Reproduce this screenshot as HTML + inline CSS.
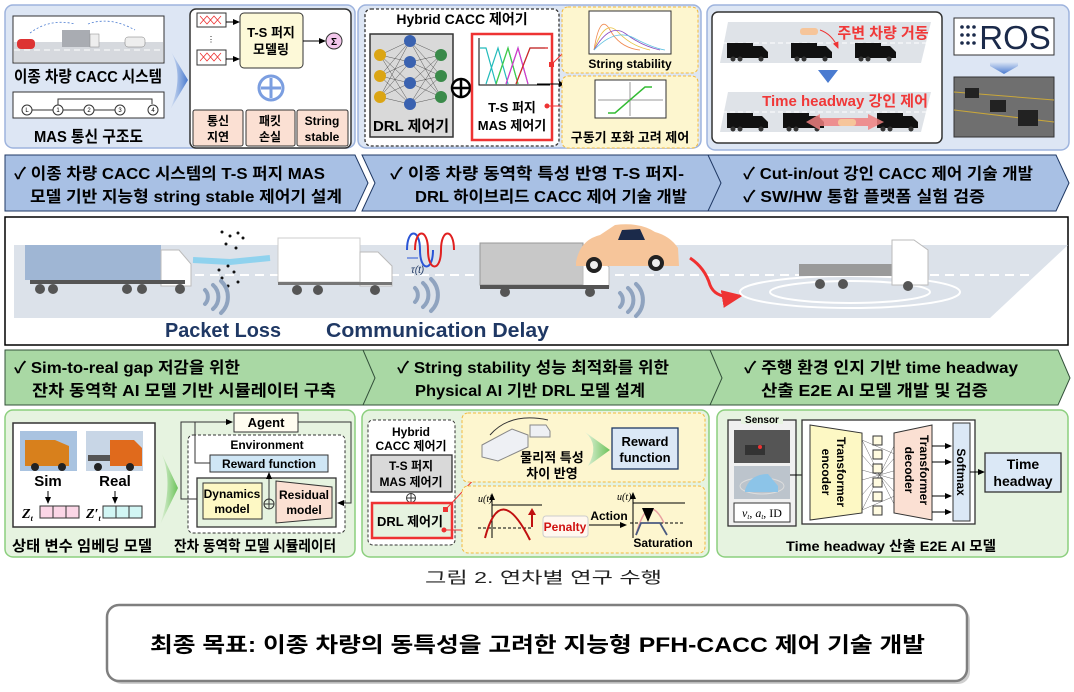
<!DOCTYPE html>
<html><head><meta charset="utf-8"><style>
html,body{margin:0;padding:0;background:#fff;}
svg{display:block;font-family:"Liberation Sans","Noto Sans CJK KR",sans-serif;}
.b{font-weight:bold;}
</style></head><body>
<svg width="1074" height="692" viewBox="0 0 1074 692" xmlns="http://www.w3.org/2000/svg">
<defs>
<marker id="ar" markerWidth="8" markerHeight="8" refX="6" refY="4" orient="auto"><path d="M0,1 L7,4 L0,7z" fill="#000"/></marker>
<marker id="arr" markerWidth="8" markerHeight="8" refX="6" refY="4" orient="auto"><path d="M0,1 L7,4 L0,7z" fill="#e33"/></marker>
<linearGradient id="bluear" x1="0" x2="1"><stop offset="0" stop-color="#dde6f4"/><stop offset="1" stop-color="#4a7bd0"/></linearGradient>
<linearGradient id="greenar" x1="0" x2="1"><stop offset="0" stop-color="#e6f3e0"/><stop offset="1" stop-color="#6cc35a"/></linearGradient>
<linearGradient id="bluedn" x1="0" y1="0" x2="0" y2="1"><stop offset="0" stop-color="#dde6f4"/><stop offset="1" stop-color="#4a7bd0"/></linearGradient>
<g id="btruck"><rect x="0" y="0" width="26" height="15" fill="#111"/><path d="M26,3 h9 l6,6 v6 h-15z" fill="#111"/><circle cx="6" cy="16" r="2.5" fill="#333"/><circle cx="13" cy="16" r="2.5" fill="#333"/><circle cx="34" cy="16" r="2.5" fill="#333"/></g>
</defs>

<!-- ===== TOP PANELS ===== -->
<rect x="5" y="5" width="350" height="143" rx="8" fill="#dde6f4" stroke="#9db3dd" stroke-width="1.5"/>
<rect x="13" y="16" width="151" height="47" fill="#fff" stroke="#333"/>
<rect x="14" y="42" width="149" height="20" fill="#d6d9de"/>
<line x1="14" y1="50" x2="163" y2="50" stroke="#fff" stroke-dasharray="6 4"/>
<rect x="17" y="39" width="18" height="10" rx="4" fill="#d33"/>
<rect x="62" y="30" width="28" height="17" fill="#a9acb2"/><rect x="90" y="34" width="9" height="13" fill="#eee" stroke="#888" stroke-width=".5"/>
<rect x="125" y="37" width="20" height="10" rx="3" fill="#eee" stroke="#777" stroke-width=".5"/>
<path d="M30,33 Q50,18 75,24 M88,24 Q110,16 135,30" stroke="#4a7bd0" stroke-width=".8" fill="none" stroke-dasharray="2 2"/>
<text x="14" y="82" font-size="16" class="b" textLength="148" lengthAdjust="spacingAndGlyphs">이종 차량 CACC 시스템</text>
<rect x="13" y="92" width="151" height="26" fill="#fff" stroke="#333"/>
<g font-size="6" text-anchor="middle" fill="none" stroke="#333">
<circle cx="27" cy="110" r="5" fill="#fff"/><circle cx="58" cy="110" r="5" fill="#fff"/><circle cx="89" cy="110" r="5" fill="#fff"/><circle cx="120" cy="110" r="5" fill="#fff"/><circle cx="153" cy="110" r="5" fill="#fff"/>
<path d="M32,110 H53 M63,110 H84 M94,110 H115 M58,105 V99 H152 V104"/>
</g>
<g font-size="6" text-anchor="middle"><text x="27" y="112">L</text><text x="58" y="112">1</text><text x="89" y="112">2</text><text x="120" y="112">3</text><text x="153" y="112">4</text></g>
<text x="34" y="142" font-size="16" class="b" textLength="109" lengthAdjust="spacingAndGlyphs">MAS 통신 구조도</text>
<path d="M170,50 Q185,75 170,110 L188,80z" fill="url(#bluear)"/>
<rect x="190" y="9" width="161" height="139" rx="6" fill="#fff" stroke="#333" stroke-width="1.5"/>
<rect x="197" y="13" width="29" height="14" fill="#fff" stroke="#333"/><path d="M200,16 l7,8 l7,-8 l7,8 M200,24 l7,-8 l7,8 l7,-8" stroke="#e33" stroke-width=".8" fill="none"/>
<rect x="197" y="50" width="29" height="15" fill="#fff" stroke="#333"/><path d="M200,53 l7,8 l7,-8 l7,8 M200,61 l7,-8 l7,8 l7,-8" stroke="#e33" stroke-width=".8" fill="none"/>
<text x="211" y="42" font-size="8" text-anchor="middle">⋮</text>
<line x1="226" y1="22" x2="239" y2="22" stroke="#000" marker-end="url(#ar)"/>
<line x1="226" y1="59" x2="239" y2="59" stroke="#000" marker-end="url(#ar)"/>
<rect x="240" y="13" width="63" height="55" rx="4" fill="#fdf9d8" stroke="#333"/>
<text x="271" y="37" font-size="13" class="b" text-anchor="middle">T-S 퍼지</text>
<text x="271" y="54" font-size="13" class="b" text-anchor="middle">모델링</text>
<line x1="303" y1="41" x2="325" y2="41" stroke="#000" marker-end="url(#ar)"/>
<circle cx="334" cy="41" r="8" fill="#f3c7ec" stroke="#333"/><text x="334" y="45" font-size="10" class="b" text-anchor="middle">Σ</text>
<circle cx="271" cy="88" r="12" fill="#fff" stroke="#7b9ee0" stroke-width="3"/><path d="M261,88 H281 M271,78 V98" stroke="#7b9ee0" stroke-width="3"/>
<g fill="#fbe0d3" stroke="#333"><rect x="193" y="110" width="50" height="36" rx="2"/><rect x="246" y="110" width="49" height="36" rx="2"/><rect x="297" y="110" width="51" height="36" rx="2"/></g>
<g font-size="12" class="b" text-anchor="middle"><text x="218" y="125">통신</text><text x="218" y="141">지연</text><text x="270" y="125">패킷</text><text x="270" y="141">손실</text><text x="322" y="125">String</text><text x="322" y="141">stable</text></g>

<rect x="358" y="5" width="343" height="143" rx="8" fill="#dde6f4" stroke="#9db3dd" stroke-width="1.5"/>
<rect x="365" y="9" width="194" height="137" rx="6" fill="#fff" stroke="#333" stroke-dasharray="3 2" stroke-width="1.3"/>
<text x="462" y="24" font-size="14" class="b" text-anchor="middle">Hybrid CACC 제어기</text>
<rect x="370" y="34" width="83" height="103" fill="#d9d9d9" stroke="#333" stroke-width="1.5"/>
<g stroke="#333" stroke-width=".4">
<path d="M380,55 L410,41 M380,55 L410,62 M380,55 L410,83 M380,55 L410,104 M380,76 L410,41 M380,76 L410,62 M380,76 L410,83 M380,76 L410,104 M380,97 L410,41 M380,97 L410,62 M380,97 L410,83 M380,97 L410,104 M410,41 L441,55 M410,62 L441,55 M410,83 L441,55 M410,104 L441,55 M410,41 L441,76 M410,62 L441,76 M410,83 L441,76 M410,104 L441,76 M410,41 L441,97 M410,62 L441,97 M410,83 L441,97 M410,104 L441,97"/></g>
<g fill="#dba514"><circle cx="380" cy="55" r="6"/><circle cx="380" cy="76" r="6"/><circle cx="380" cy="97" r="6"/></g>
<g fill="#3a62b0"><circle cx="410" cy="41" r="6"/><circle cx="410" cy="62" r="6"/><circle cx="410" cy="83" r="6"/><circle cx="410" cy="104" r="6"/></g>
<g fill="#3a8a4a"><circle cx="441" cy="55" r="6"/><circle cx="441" cy="76" r="6"/><circle cx="441" cy="97" r="6"/></g>
<text x="411" y="131" font-size="15" class="b" text-anchor="middle">DRL 제어기</text>
<circle cx="461" cy="88" r="9" fill="#fff" stroke="#000" stroke-width="2.5"/><path d="M452,88 H470 M461,79 V97" stroke="#000" stroke-width="2.5"/>
<rect x="472" y="34" width="80" height="106" fill="#fff" stroke="#e33" stroke-width="2.5"/>
<path d="M479,38 V85 H550" stroke="#000" fill="none"/>
<path d="M480,48 H486 L496,84 M486,84 L498,48 L508,84 M496,84 L508,48 L518,84 M506,84 L518,48 L528,84 M516,84 L530,48 L540,48 L545,48" fill="none" stroke-width="1.2" stroke="#2bb"/>
<path d="M496,84 L508,48 L518,84" fill="none" stroke="#4c4" stroke-width="1.2"/><path d="M506,84 L518,48 L528,84" fill="none" stroke="#d3c" stroke-width="1.2"/><path d="M516,84 L530,48 H548" fill="none" stroke="#d22" stroke-width="1.2"/>
<text x="512" y="112" font-size="13" class="b" text-anchor="middle">T-S 퍼지</text>
<text x="512" y="130" font-size="13" class="b" text-anchor="middle">MAS 제어기</text>
<rect x="549" y="62" width="5" height="5" fill="#e33"/><line x1="552" y1="64" x2="570" y2="46" stroke="#e33" marker-end="url(#arr)"/>
<line x1="537" y1="84" x2="565" y2="84" stroke="#000" marker-end="url(#ar)"/>
<circle cx="547" cy="106" r="2.5" fill="#e33"/><line x1="547" y1="106" x2="572" y2="106" stroke="#e33" marker-end="url(#arr)"/>
<rect x="562" y="7" width="136" height="66" rx="6" fill="#fdf6cf" stroke="#f2b93c" stroke-dasharray="3 2"/>
<rect x="589" y="11" width="82" height="43" fill="#fff" stroke="#333"/>
<g fill="none" stroke-width=".8"><path d="M594,50 Q600,12 610,30 T640,50" stroke="#f08a50"/><path d="M594,50 Q605,18 618,32 T650,50" stroke="#e8c040"/><path d="M594,50 Q610,22 626,34 T660,50" stroke="#8a4bc0"/><path d="M594,50 Q615,28 634,38 T665,50" stroke="#5cc0e0"/></g>
<text x="630" y="68" font-size="12" class="b" text-anchor="middle">String stability</text>
<rect x="562" y="76" width="136" height="72" rx="6" fill="#fdf6cf" stroke="#f2b93c" stroke-dasharray="3 2"/>
<rect x="595" y="80" width="71" height="38" fill="#fff" stroke="#333"/>
<path d="M598,100 H663 M630,82 V116" stroke="#333" stroke-width=".5"/>
<path d="M608,113 H615 L645,87 H652" stroke="#3b3" stroke-width="1.5" fill="none"/>
<text x="630" y="142" font-size="13" class="b" text-anchor="middle">구동기 포화 고려 제어</text>

<rect x="707" y="5" width="362" height="145" rx="8" fill="#dde6f4" stroke="#9db3dd" stroke-width="1.5"/>
<rect x="712" y="12" width="230" height="131" rx="6" fill="#fff" stroke="#333" stroke-width="1.5"/>
<path d="M728,22 H931 L921,63 H720z" fill="#dfe3e8"/>
<line x1="722" y1="43" x2="928" y2="43" stroke="#fff" stroke-dasharray="5 3"/>
<use href="#btruck" x="727" y="43"/><use href="#btruck" x="791" y="43"/><use href="#btruck" x="855" y="43"/>
<rect x="800" y="28" width="18" height="7" rx="3" fill="#f6c59a"/>
<path d="M820,30 Q832,34 838,48" stroke="#e33" fill="none" marker-end="url(#arr)"/>
<text x="883" y="38" font-size="15" class="b" fill="#f03838" text-anchor="middle">주변 차량 거동</text>
<path d="M818,70 H838 L828,83z" fill="#4a7bd0"/>
<path d="M728,92 H931 L921,132 H720z" fill="#dfe3e8"/>
<line x1="722" y1="112" x2="928" y2="112" stroke="#fff" stroke-dasharray="5 3"/>
<use href="#btruck" x="727" y="113"/><use href="#btruck" x="783" y="113"/><use href="#btruck" x="877" y="113"/>
<path d="M806,122 L820,114 V118 H868 V114 L884,122 L868,130 V126 H820 V130z" fill="#f08080" opacity=".85"/>
<rect x="838" y="119" width="18" height="7" rx="3" fill="#f6c59a"/>
<text x="845" y="106" font-size="15" class="b" fill="#f03838" text-anchor="middle">Time headway 강인 제어</text>
<rect x="954" y="18" width="100" height="37" fill="#fff" stroke="#333"/>
<g fill="#1b2a4a"><circle cx="962" cy="27" r="1.8"/><circle cx="968" cy="27" r="1.8"/><circle cx="974" cy="27" r="1.8"/><circle cx="962" cy="35" r="1.8"/><circle cx="968" cy="35" r="1.8"/><circle cx="974" cy="35" r="1.8"/><circle cx="962" cy="43" r="1.8"/><circle cx="968" cy="43" r="1.8"/><circle cx="974" cy="43" r="1.8"/></g>
<text x="1015" y="49" font-size="33" fill="#1b2a4a" text-anchor="middle">ROS</text>
<path d="M990,62 H1018 V66 L1004,74 L990,66z" fill="url(#bluedn)"/>
<rect x="954" y="77" width="100" height="60" fill="#6f6f6f" stroke="#333"/>
<path d="M954,92 L1054,100 M954,110 L1054,122" stroke="#c9a73a" stroke-width="1"/>
<g fill="#222"><rect x="965" y="88" width="14" height="10"/><rect x="990" y="100" width="16" height="12"/><rect x="1018" y="110" width="20" height="16"/></g>

<!-- banners row 1 -->
<path d="M5,155 H355 L368,183 L355,211 H5z" fill="#a8c0e4" stroke="#1f3864" stroke-width="1"/>
<path d="M362,155 H712 L725,183 L712,211 H362 L375,183z" fill="#a8c0e4" stroke="#1f3864" stroke-width="1"/>
<path d="M708,155 H1056 L1069,183 L1056,211 H708 L721,183z" fill="#a8c0e4" stroke="#1f3864" stroke-width="1"/>
<g font-size="16" class="b" lengthAdjust="spacingAndGlyphs">
<text x="14" y="179" textLength="311" lengthAdjust="spacingAndGlyphs">✓ 이종 차량 CACC 시스템의 T-S 퍼지 MAS</text>
<text x="30" y="202" textLength="312" lengthAdjust="spacingAndGlyphs">모델 기반 지능형 string stable 제어기 설계</text>
<text x="390" y="179" textLength="294" lengthAdjust="spacingAndGlyphs">✓ 이종 차량 동역학 특성 반영 T-S 퍼지-</text>
<text x="415" y="202" textLength="272" lengthAdjust="spacingAndGlyphs">DRL 하이브리드 CACC 제어 기술 개발</text>
<text x="743" y="179" textLength="290" lengthAdjust="spacingAndGlyphs">✓ Cut-in/out 강인 CACC 제어 기술 개발</text>
<text x="743" y="202" textLength="242" lengthAdjust="spacingAndGlyphs">✓ SW/HW 통합 플랫폼 실험 검증</text>
</g>

<!-- ===== MIDDLE ===== -->
<rect x="5" y="217" width="1063" height="128" fill="#fff" stroke="#000" stroke-width="1.5"/>
<path d="M14,245 H1068 L990,318 H14z" fill="#dce2ea"/>
<line x1="180" y1="275" x2="1030" y2="275" stroke="#fff" stroke-width="2" stroke-dasharray="9 6"/>
<rect x="25" y="245" width="136" height="35" fill="#9fb6d4"/>
<path d="M161,250 h18 l12,14 v22 h-30z" fill="#fff" stroke="#bbb"/>
<rect x="30" y="280" width="155" height="4" fill="#555"/>
<g fill="#555"><circle cx="40" cy="289" r="5"/><circle cx="53" cy="289" r="5"/><circle cx="127" cy="289" r="5"/><circle cx="142" cy="289" r="5"/><circle cx="180" cy="289" r="5"/></g>
<path d="M193,260 L230,262 L270,258" stroke="#5cc8f0" stroke-width="6" opacity=".6" fill="none"/>
<g fill="#111"><circle cx="222" cy="232" r="1.5"/><circle cx="230" cy="236" r="1.5"/><circle cx="238" cy="233" r="1.5"/><circle cx="226" cy="244" r="1.5"/><circle cx="236" cy="248" r="1.5"/><circle cx="228" cy="266" r="1.5"/><circle cx="234" cy="272" r="1.5"/><circle cx="222" cy="278" r="1.5"/><circle cx="238" cy="282" r="1.5"/><circle cx="228" cy="286" r="1.5"/><circle cx="243" cy="238" r="1.5"/><circle cx="219" cy="270" r="1.5"/></g>
<rect x="278" y="238" width="82" height="44" fill="#fff" stroke="#ccc"/>
<path d="M360,252 h18 l14,14 v20 h-32z" fill="#fff" stroke="#bbb"/>
<rect x="278" y="282" width="114" height="3" fill="#777"/>
<g fill="#555"><circle cx="297" cy="290" r="5"/><circle cx="318" cy="290" r="5"/><circle cx="375" cy="290" r="5"/></g>
<path d="M407,250 C407,228 420,228 420,250 S433,272 433,250" stroke="#2a55d6" stroke-width="2" fill="none"/>
<path d="M415,250 C415,228 428,228 428,250 S441,272 441,250 S454,228 454,250" stroke="#e02020" stroke-width="2" fill="none"/>
<line x1="407" y1="258" x2="418" y2="258" stroke="#2a55d6"/>
<text x="411" y="273" font-size="10" font-style="italic" fill="#1f3864">τ(t)</text>
<rect x="480" y="243" width="103" height="42" fill="#c8c8c8" stroke="#999"/>
<path d="M583,255 h14 l12,12 v20 h-26z" fill="#fff" stroke="#bbb"/>
<rect x="480" y="285" width="129" height="4" fill="#555"/>
<g fill="#555"><circle cx="505" cy="292" r="5"/><circle cx="590" cy="292" r="5"/></g>
<path d="M576,262 Q580,240 600,235 L615,225 Q640,222 655,232 Q670,236 678,248 L679,266 H576z" fill="#f6c59a"/>
<path d="M622,230 L640,229 L645,240 L618,240z" fill="#1b2a4a"/>
<circle cx="594" cy="265" r="8" fill="#222"/><circle cx="594" cy="265" r="4" fill="#eee"/><circle cx="656" cy="263" r="8" fill="#222"/><circle cx="656" cy="263" r="4" fill="#eee"/>
<path d="M690,258 Q705,268 710,285 Q716,300 740,296" stroke="#f03030" stroke-width="3" fill="none" marker-end="url(#arr)"/>
<ellipse cx="850" cy="292" rx="110" ry="16" fill="none" stroke="#fff" stroke-width="2"/>
<ellipse cx="850" cy="292" rx="80" ry="11" fill="none" stroke="#fff" stroke-width="2"/>
<rect x="799" y="264" width="93" height="12" fill="#9a9a9a"/>
<path d="M892,240 h22 l14,10 v35 h-36z" fill="#fff" stroke="#bbb"/>
<g fill="#555"><circle cx="820" cy="284" r="5"/><circle cx="843" cy="284" r="5"/><circle cx="908" cy="286" r="5"/></g>
<g fill="none" stroke="#8fa3bf" stroke-width="4" stroke-linecap="round">
<path d="M205,290 a10,10 0 0 1 0,14 M213,285 a16,16 0 0 1 0,24 M221,281 a22,22 0 0 1 0,32"/>
<path d="M415,288 a10,10 0 0 1 0,14 M423,283 a16,16 0 0 1 0,24 M431,279 a22,22 0 0 1 0,32"/>
<path d="M620,293 a10,10 0 0 1 0,14 M628,288 a16,16 0 0 1 0,24 M636,284 a22,22 0 0 1 0,32"/>
</g>
<text x="165" y="337" font-size="20" class="b" fill="#1f3864" textLength="116" lengthAdjust="spacingAndGlyphs">Packet Loss</text>
<text x="326" y="337" font-size="20" class="b" fill="#1f3864" textLength="223" lengthAdjust="spacingAndGlyphs">Communication Delay</text>

<!-- banners row 2 -->
<path d="M5,350 H368 L380,378 L368,405 H5z" fill="#a9d8a4" stroke="#33503a" stroke-width="1"/>
<path d="M363,350 H715 L727,378 L715,405 H363 L375,378z" fill="#a9d8a4" stroke="#33503a" stroke-width="1"/>
<path d="M710,350 H1058 L1070,378 L1058,405 H710 L722,378z" fill="#a9d8a4" stroke="#33503a" stroke-width="1"/>
<g font-size="16" class="b">
<text x="14" y="373" textLength="226" lengthAdjust="spacingAndGlyphs">✓ Sim-to-real gap 저감을 위한</text>
<text x="32" y="396" textLength="304" lengthAdjust="spacingAndGlyphs">잔차 동역학 AI 모델 기반 시뮬레이터 구축</text>
<text x="397" y="373" textLength="272" lengthAdjust="spacingAndGlyphs">✓ String stability 성능 최적화를 위한</text>
<text x="415" y="396" textLength="230" lengthAdjust="spacingAndGlyphs">Physical AI 기반 DRL 모델 설계</text>
<text x="744" y="373" textLength="274" lengthAdjust="spacingAndGlyphs">✓ 주행 환경 인지 기반 time headway</text>
<text x="761" y="396" textLength="227" lengthAdjust="spacingAndGlyphs">산출 E2E AI 모델 개발 및 검증</text>
</g>

<!-- ===== BOTTOM PANELS ===== -->
<rect x="5" y="410" width="350" height="147" rx="8" fill="#e6f3e0" stroke="#8ccf7e" stroke-width="1.5"/>
<rect x="13" y="423" width="142" height="104" fill="#fff" stroke="#333" stroke-width="1.5"/>
<rect x="20" y="431" width="57" height="40" fill="#a9c3e0"/><path d="M25,440 h30 l14,6 v20 h-44z" fill="#d8801c"/><circle cx="35" cy="467" r="4" fill="#222"/><circle cx="62" cy="467" r="4" fill="#222"/>
<rect x="86" y="431" width="57" height="40" fill="#c8d6e6"/><path d="M110,440 h24 l8,8 v18 h-32z" fill="#e06a1c"/><rect x="88" y="455" width="22" height="6" fill="#555"/><circle cx="98" cy="467" r="4" fill="#222"/><circle cx="130" cy="467" r="4" fill="#222"/>
<text x="48" y="486" font-size="15" class="b" text-anchor="middle">Sim</text>
<text x="115" y="486" font-size="15" class="b" text-anchor="middle">Real</text>
<line x1="48" y1="491" x2="48" y2="503" stroke="#000" marker-end="url(#ar)"/><line x1="115" y1="491" x2="115" y2="503" stroke="#000" marker-end="url(#ar)"/>
<text x="22" y="518" font-size="14" font-family="Liberation Serif" font-style="italic" class="b">Z<tspan font-size="8" dy="3">t</tspan></text>
<g stroke="#333" fill="#fbd6e6"><rect x="40" y="506" width="13" height="12"/><rect x="53" y="506" width="13" height="12"/><rect x="66" y="506" width="13" height="12"/></g>
<text x="86" y="518" font-size="14" font-family="Liberation Serif" font-style="italic" class="b">Z′<tspan font-size="8" dy="3">t</tspan></text>
<g stroke="#333" fill="#d2f6f4"><rect x="103" y="506" width="13" height="12"/><rect x="116" y="506" width="13" height="12"/><rect x="129" y="506" width="13" height="12"/></g>
<text x="12" y="551" font-size="15" class="b" textLength="140" lengthAdjust="spacingAndGlyphs">상태 변수 임베딩 모델</text>
<path d="M160,450 Q175,480 160,525 L178,488z" fill="url(#greenar)"/>
<rect x="234" y="413" width="64" height="19" fill="#fffdf0" stroke="#333"/>
<text x="266" y="427" font-size="13" class="b" text-anchor="middle">Agent</text>
<rect x="188" y="435" width="157" height="98" rx="5" fill="#fff" stroke="#333" stroke-dasharray="3 2"/>
<text x="267" y="449" font-size="12" class="b" text-anchor="middle">Environment</text>
<rect x="210" y="455" width="118" height="17" fill="#cfe6f5" stroke="#333"/>
<text x="269" y="468" font-size="12" class="b" text-anchor="middle">Reward function</text>
<rect x="197" y="478" width="139" height="49" fill="#e6f3e0" stroke="#333" stroke-width="1.3"/>
<rect x="203" y="483" width="59" height="36" fill="#fdf8c4" stroke="#333"/>
<text x="232" y="498" font-size="12" class="b" text-anchor="middle">Dynamics</text><text x="232" y="513" font-size="12" class="b" text-anchor="middle">model</text>
<path d="M276,481 L332,487 V518 L276,523z" fill="#fbe0d3" stroke="#333"/>
<text x="304" y="499" font-size="12" class="b" text-anchor="middle">Residual</text><text x="304" y="514" font-size="12" class="b" text-anchor="middle">model</text>
<circle cx="269" cy="504" r="5" fill="none" stroke="#333"/><path d="M264,504 H274 M269,499 V509" stroke="#333"/>
<line x1="269" y1="499" x2="269" y2="473" stroke="#333" marker-end="url(#ar)"/>
<path d="M197,499 H181 V422 H232" stroke="#333" fill="none" marker-end="url(#ar)"/>
<path d="M210,463 H195 V422" stroke="#333" fill="none"/>
<path d="M298,422 H351 V503 H338" stroke="#333" fill="none" marker-end="url(#ar)"/>
<text x="174" y="551" font-size="15" class="b" textLength="162" lengthAdjust="spacingAndGlyphs">잔차 동역학 모델 시뮬레이터</text>

<rect x="362" y="410" width="347" height="147" rx="8" fill="#e6f3e0" stroke="#8ccf7e" stroke-width="1.5"/>
<rect x="368" y="420" width="87" height="125" rx="5" fill="#fff" stroke="#333" stroke-dasharray="3 2"/>
<text x="411" y="436" font-size="12" class="b" text-anchor="middle">Hybrid</text>
<text x="411" y="450" font-size="12" class="b" text-anchor="middle">CACC 제어기</text>
<rect x="371" y="455" width="81" height="37" fill="#d9d9d9" stroke="#333" stroke-width="1.3"/>
<text x="411" y="470" font-size="12" class="b" text-anchor="middle">T-S 퍼지</text>
<text x="411" y="486" font-size="12" class="b" text-anchor="middle">MAS 제어기</text>
<circle cx="411" cy="498" r="4.5" fill="none" stroke="#333"/><path d="M406.5,498 H415.5 M411,493.5 V502.5" stroke="#333"/>
<rect x="372" y="503" width="80" height="35" fill="#e6f3e0" stroke="#e33" stroke-width="2.5"/>
<text x="410" y="526" font-size="13" class="b" text-anchor="middle">DRL 제어기</text>
<rect x="443" y="507" width="5" height="5" fill="#e33"/><line x1="446" y1="509" x2="480" y2="473" stroke="#e33" marker-end="url(#arr)"/>
<circle cx="444" cy="530" r="2.5" fill="#e33"/><line x1="444" y1="530" x2="472" y2="530" stroke="#e33" marker-end="url(#arr)"/>
<rect x="462" y="413" width="243" height="69" rx="6" fill="#fdf6cf" stroke="#f2b93c" stroke-dasharray="3 2"/>
<path d="M482,445 l30,-16 l16,6 v12 l-30,14 l-16,-4z" fill="#eef0f4" stroke="#888"/>
<path d="M530,425 h16 l4,6 v6 h-20z" fill="#eef0f4" stroke="#888"/>
<path d="M490,435 Q510,412 548,420" stroke="#333" fill="none"/>
<text x="552" y="462" font-size="13" class="b" text-anchor="middle">물리적 특성</text>
<text x="552" y="478" font-size="13" class="b" text-anchor="middle">차이 반영</text>
<path d="M585,432 Q600,445 588,466 L610,450z" fill="url(#greenar)"/>
<rect x="612" y="428" width="66" height="41" fill="#dbe8f6" stroke="#1f3864" stroke-width="1.3"/>
<text x="645" y="446" font-size="13" class="b" text-anchor="middle">Reward</text>
<text x="645" y="462" font-size="13" class="b" text-anchor="middle">function</text>
<rect x="462" y="486" width="243" height="67" rx="6" fill="#fdf6cf" stroke="#f2b93c" stroke-dasharray="3 2"/>
<text x="478" y="502" font-size="10" font-family="Liberation Serif" font-style="italic">u(t)</text>
<line x1="492" y1="538" x2="492" y2="494" stroke="#000" marker-end="url(#ar)"/>
<line x1="492" y1="505" x2="542" y2="505" stroke="#000"/>
<line x1="478" y1="528" x2="532" y2="528" stroke="#000" stroke-dasharray="3 2"/>
<path d="M485,538 Q500,480 530,540" stroke="#c01010" stroke-width="2" fill="none"/>
<path d="M532,527 V514" stroke="#c01010" stroke-width="2"/><path d="M528,515 L532,508 L536,515z" fill="#c01010"/>
<rect x="543" y="516" width="45" height="21" rx="3" fill="#fff8ef" stroke="#ccc"/>
<text x="565" y="531" font-size="12" class="b" fill="#d01010" text-anchor="middle">Penalty</text>
<text x="609" y="520" font-size="12" class="b" text-anchor="middle">Action</text>
<line x1="589" y1="525" x2="626" y2="525" stroke="#000" marker-end="url(#ar)"/>
<text x="617" y="500" font-size="10" font-family="Liberation Serif" font-style="italic">u(t)</text>
<line x1="633" y1="538" x2="633" y2="493" stroke="#000" marker-end="url(#ar)"/>
<line x1="633" y1="503" x2="685" y2="503" stroke="#000"/>
<line x1="630" y1="523" x2="685" y2="523" stroke="#000" stroke-dasharray="3 2"/>
<path d="M636,535 Q648,490 664,523" stroke="#e9a0a0" stroke-width="1.5" fill="none"/>
<path d="M636,535 L641,523 H660 L667,535" stroke="#4a5a80" stroke-width="1.8" fill="none"/>
<line x1="648" y1="510" x2="648" y2="520" stroke="#1f3864" stroke-width="2" marker-end="url(#ar)"/>
<text x="663" y="547" font-size="12" class="b" text-anchor="middle">Saturation</text>

<rect x="717" y="410" width="351" height="147" rx="8" fill="#e6f3e0" stroke="#8ccf7e" stroke-width="1.5"/>
<rect x="728" y="420" width="68" height="106" fill="#f0f0f0" stroke="#333" stroke-width="1.3"/>
<rect x="741" y="414" width="42" height="10" fill="#e6f3e0"/>
<text x="762" y="423" font-size="10" class="b" text-anchor="middle">Sensor</text>
<rect x="734" y="430" width="56" height="33" fill="#555"/><rect x="745" y="445" width="20" height="10" fill="#333"/><circle cx="760" cy="447" r="2" fill="#e33"/>
<rect x="734" y="466" width="56" height="33" fill="#bcc4cc"/><ellipse cx="762" cy="486" rx="22" ry="8" fill="none" stroke="#ddd"/><path d="M745,490 Q750,474 768,474 L778,486 V492 H745z" fill="#8cc4e8"/>
<rect x="734" y="503" width="56" height="19" fill="#fff" stroke="#333"/>
<text x="762" y="517" font-size="12" font-family="Liberation Serif" text-anchor="middle"><tspan font-style="italic">v</tspan><tspan font-size="7" font-style="italic" dy="2">t</tspan><tspan dy="-2">, </tspan><tspan font-style="italic">a</tspan><tspan font-size="7" font-style="italic" dy="2">t</tspan><tspan dy="-2">, ID</tspan></text>
<line x1="790" y1="475" x2="809" y2="475" stroke="#000" marker-end="url(#ar)"/>
<rect x="802" y="420" width="173" height="104" fill="#fff" stroke="#333" stroke-width="1.3"/>
<path d="M810,425 L862,433 V513 L810,520z" fill="#fdf8c4" stroke="#333"/>
<text transform="translate(837,472) rotate(90)" font-size="12" class="b" text-anchor="middle">Transformer</text>
<text transform="translate(822,472) rotate(90)" font-size="12" class="b" text-anchor="middle">encoder</text>
<g stroke="#444" stroke-width=".4"><path d="M862,440 L897,510 M862,510 L897,440 M862,455 L897,495 M862,495 L897,455 M862,470 L897,480 M862,480 L897,470 M862,440 L897,455 M862,510 L897,495"/></g>
<g fill="#fffbe0" stroke="#333"><rect x="873" y="436" width="9" height="9"/><rect x="873" y="450" width="9" height="9"/><rect x="873" y="464" width="9" height="9"/><rect x="873" y="478" width="9" height="9"/><rect x="873" y="492" width="9" height="9"/><rect x="873" y="506" width="9" height="9"/></g>
<path d="M894,433 L932,425 V520 L894,513z" fill="#fbe0d3" stroke="#333"/>
<text transform="translate(920,470) rotate(90)" font-size="12" class="b" text-anchor="middle">Transformer</text>
<text transform="translate(905,470) rotate(90)" font-size="12" class="b" text-anchor="middle">decoder</text>
<g stroke="#000"><line x1="932" y1="446" x2="951" y2="446" marker-end="url(#ar)"/><line x1="932" y1="462" x2="951" y2="462" marker-end="url(#ar)"/><line x1="932" y1="496" x2="951" y2="496" marker-end="url(#ar)"/><line x1="932" y1="512" x2="951" y2="512" marker-end="url(#ar)"/></g>
<rect x="953" y="423" width="17" height="98" fill="#dbe8f6" stroke="#333"/>
<text transform="translate(957,472) rotate(90)" font-size="12" class="b" text-anchor="middle">Softmax</text>
<line x1="970" y1="472" x2="984" y2="472" stroke="#000" marker-end="url(#ar)"/>
<rect x="985" y="453" width="76" height="39" fill="#dbe8f6" stroke="#333" stroke-width="1.3"/>
<text x="1023" y="469" font-size="14" class="b" text-anchor="middle">Time</text>
<text x="1023" y="486" font-size="14" class="b" text-anchor="middle">headway</text>
<text x="786" y="551" font-size="14" class="b" textLength="210" lengthAdjust="spacingAndGlyphs">Time headway 산출 E2E AI 모델</text>

<text x="425" y="583" font-size="16" fill="#222" textLength="237" lengthAdjust="spacingAndGlyphs">그림 2. 연차별 연구 수행</text>

<rect x="110" y="608" width="860" height="76" rx="12" fill="#cfcfcf"/>
<rect x="107" y="605" width="860" height="76" rx="12" fill="#fff" stroke="#7f7f7f" stroke-width="2.5"/>
<text x="150" y="652" font-size="21" class="b" textLength="775" lengthAdjust="spacingAndGlyphs">최종 목표: 이종 차량의 동특성을 고려한 지능형 PFH-CACC 제어 기술 개발</text>
</svg>
</body></html>
